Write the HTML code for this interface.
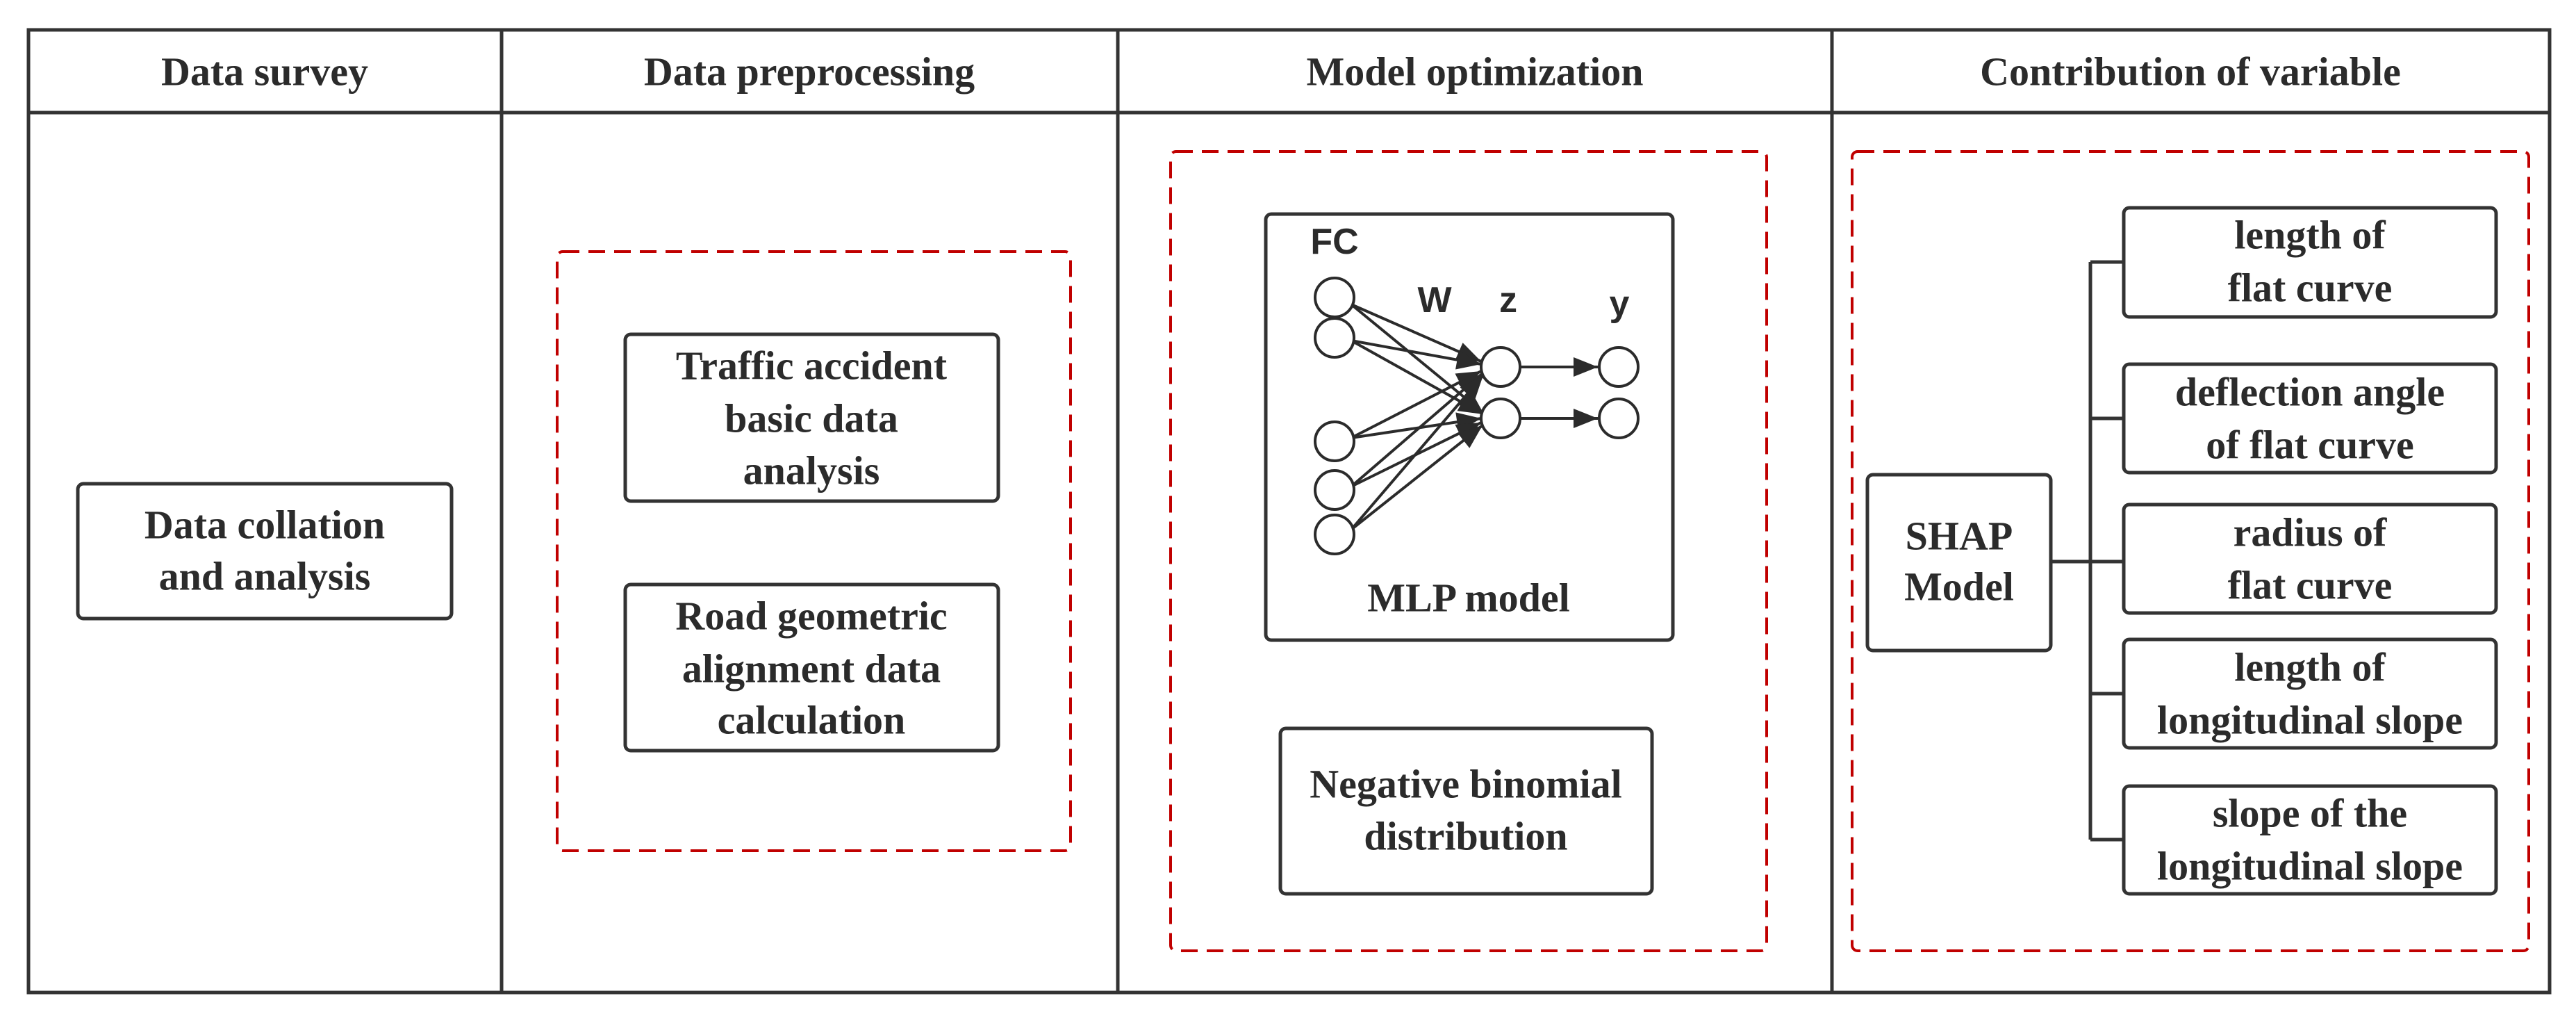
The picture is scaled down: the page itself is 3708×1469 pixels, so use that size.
<!DOCTYPE html>
<html><head><meta charset="utf-8"><style>
html,body{margin:0;padding:0;background:#fff;}
svg{display:block;}
.t{font-family:"Liberation Serif",serif;font-weight:bold;font-size:58px;fill:#2b2b2b;text-anchor:middle;dominant-baseline:central;}
.s{font-family:"Liberation Sans",sans-serif;font-weight:bold;font-size:52px;fill:#2b2b2b;text-anchor:middle;dominant-baseline:central;}
</style></head><body>
<svg width="3708" height="1469" viewBox="0 0 3708 1469" xmlns="http://www.w3.org/2000/svg">
<defs>
<marker id="b" viewBox="0 0 10 8" markerWidth="36" markerHeight="28" refX="10" refY="4" orient="auto" markerUnits="userSpaceOnUse"><path d="M0,0 L10,4 L0,8 z" fill="#2b2b2b"/></marker></defs>
<g fill="none" stroke="#333" stroke-width="5">
<rect x="41" y="43" width="3629" height="1385"/>
<line x1="41" y1="162" x2="3670" y2="162"/>
<line x1="722" y1="43" x2="722" y2="1428"/>
<line x1="1609" y1="43" x2="1609" y2="1428"/>
<line x1="2637" y1="43" x2="2637" y2="1428"/>
</g>
<text class="t" x="381" y="103">Data survey</text>
<text class="t" x="1165" y="103">Data preprocessing</text>
<text class="t" x="2123" y="103">Model optimization</text>
<text class="t" x="3153" y="103">Contribution of variable</text>
<g fill="none" stroke="#c00000" stroke-width="4" stroke-dasharray="24,13">
<rect x="802" y="362" width="739" height="862" rx="8"/>
<rect x="1685" y="218" width="858" height="1150" rx="8"/>
<rect x="2666" y="218" width="974" height="1150" rx="8"/>
</g>
<g fill="#fff" stroke="#333" stroke-width="5">
<rect x="112" y="696" width="538" height="194" rx="8"/>
<rect x="900" y="481" width="537" height="240" rx="8"/>
<rect x="900" y="841" width="537" height="239" rx="8"/>
<rect x="1822" y="308" width="586" height="613" rx="8"/>
<rect x="1843" y="1048" width="535" height="238" rx="8"/>
<rect x="2688" y="683" width="264" height="253" rx="8"/>
<rect x="3057" y="299" width="536" height="157" rx="8"/>
<rect x="3057" y="524" width="536" height="156" rx="8"/>
<rect x="3057" y="726" width="536" height="156" rx="8"/>
<rect x="3057" y="920" width="536" height="156" rx="8"/>
<rect x="3057" y="1131" width="536" height="155" rx="8"/>
</g>
<text class="t" x="381" y="755">Data collation</text>
<text class="t" x="381" y="829">and analysis</text>
<text class="t" x="1168" y="526">Traffic accident</text>
<text class="t" x="1168" y="602">basic data</text>
<text class="t" x="1168" y="677">analysis</text>
<text class="t" x="1168" y="886">Road geometric</text>
<text class="t" x="1168" y="962">alignment data</text>
<text class="t" x="1168" y="1036">calculation</text>
<text class="t" x="2110" y="1128">Negative binomial</text>
<text class="t" x="2110" y="1203">distribution</text>
<text class="t" x="2114" y="860">MLP model</text>
<text class="t" x="2820" y="771">SHAP</text>
<text class="t" x="2820" y="844">Model</text>
<text class="t" x="3325" y="338">length of</text>
<text class="t" x="3325" y="414">flat curve</text>
<text class="t" x="3325" y="564">deflection angle</text>
<text class="t" x="3325" y="640">of flat curve</text>
<text class="t" x="3325" y="766">radius of</text>
<text class="t" x="3325" y="842">flat curve</text>
<text class="t" x="3325" y="960">length of</text>
<text class="t" x="3325" y="1036">longitudinal slope</text>
<text class="t" x="3325" y="1170">slope of the</text>
<text class="t" x="3325" y="1246">longitudinal slope</text>
<g fill="none" stroke="#333" stroke-width="5">
<line x1="3009" y1="377" x2="3009" y2="1208"/>
<line x1="2952" y1="808" x2="3057" y2="808"/>
<line x1="3009" y1="377" x2="3057" y2="377"/>
<line x1="3009" y1="602" x2="3057" y2="602"/>
<line x1="3009" y1="998" x2="3057" y2="998"/>
<line x1="3009" y1="1208" x2="3057" y2="1208"/>
</g>
<text class="s" x="1921" y="348">FC</text>
<text class="s" x="2065" y="432">W</text>
<text class="s" x="2171" y="432">z</text>
<text class="s" x="2331" y="437">y</text>
<g stroke="#2b2b2b" stroke-width="4" fill="none" marker-end="url(#b)">
<line x1="1945" y1="438" x2="2132" y2="520"/>
<line x1="1945" y1="438" x2="2135" y2="594"/>
<line x1="1945" y1="490" x2="2132" y2="524"/>
<line x1="1945" y1="490" x2="2135" y2="596"/>
<line x1="1945" y1="630" x2="2132" y2="534"/>
<line x1="1945" y1="630" x2="2132" y2="602"/>
<line x1="1945" y1="700" x2="2133" y2="538"/>
<line x1="1945" y1="700" x2="2132" y2="608"/>
<line x1="1945" y1="762" x2="2135" y2="540"/>
<line x1="1945" y1="762" x2="2134" y2="612"/>
<line x1="2188" y1="528" x2="2300" y2="528"/>
<line x1="2188" y1="602" x2="2300" y2="602"/>
</g>
<g fill="#fff" stroke="#2b2b2b" stroke-width="4">
<circle cx="1921" cy="428" r="28"/>
<circle cx="1921" cy="486" r="28"/>
<circle cx="1921" cy="635" r="28"/>
<circle cx="1921" cy="705" r="28"/>
<circle cx="1921" cy="769" r="28"/>
<circle cx="2160" cy="528" r="28"/>
<circle cx="2160" cy="602" r="28"/>
<circle cx="2330" cy="528" r="28"/>
<circle cx="2330" cy="602" r="28"/>
</g>
</svg>
</body></html>
